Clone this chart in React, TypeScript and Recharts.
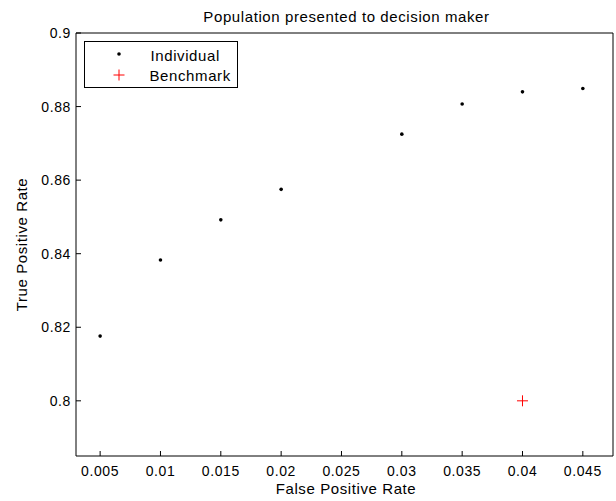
import React from 'react';
import { ScatterChart, Scatter, XAxis, YAxis, Legend } from 'recharts';

// ---- data ----
const fprValues = [0.005, 0.01, 0.015, 0.02, 0.03, 0.035, 0.04, 0.045];
const tprValues = [0.8176, 0.8383, 0.8492, 0.8575, 0.8725, 0.8807, 0.884, 0.8849];
const benchmarkFpr = [0.04];
const benchmarkTpr = [0.8];

const xTicks = [0.005, 0.01, 0.015, 0.02, 0.025, 0.03, 0.035, 0.04, 0.045];
const xTickLabels = ['0.005', '0.01', '0.015', '0.02', '0.025', '0.03', '0.035', '0.04', '0.045'];
const yTicks = [0.8, 0.82, 0.84, 0.86, 0.88, 0.9];
const yTickLabels = ['0.8', '0.82', '0.84', '0.86', '0.88', '0.9'];

const xDomain = [0.003, 0.0475];
const yDomain = [0.785, 0.9];

const titleText = 'Population presented to decision maker';
const xLabelText = 'False Positive Rate';
const yLabelText = 'True Positive Rate';
const seriesNames = ['Individual', 'Benchmark'];

const individualData = fprValues.map((x, i) => ({ x, y: tprValues[i] }));
const benchmarkData = benchmarkFpr.map((x, i) => ({ x, y: benchmarkTpr[i] }));

const fmt = (ticks: number[], labels: string[]) => (v: number) => {
  const i = ticks.findIndex((t) => Math.abs(t - v) < 1e-9);
  return i >= 0 ? labels[i] : String(v);
};

const DotShape = (props: any) => <circle cx={props.cx} cy={props.cy} r={1.8} fill="#000" />;
const PlusShape = (props: any) => (
  <g stroke="#ff0000" strokeWidth={1}>
    <line x1={props.cx - 5.5} y1={props.cy} x2={props.cx + 5.5} y2={props.cy} />
    <line x1={props.cx} y1={props.cy - 5.5} x2={props.cx} y2={props.cy + 5.5} />
  </g>
);
const NoShape = () => <g />;

const LegendBox = () => (
  <svg width={156} height={50} style={{ display: 'block', overflow: 'visible' }}>
    <rect x={0.5} y={0.5} width={153} height={46} fill="#fff" stroke="#000" strokeWidth={1} />
    <circle cx={35} cy={13} r={1.8} fill="#000" />
    <text x={66.5} y={19.5} fontSize={15} fill="#000">{seriesNames[0]}</text>
    <g stroke="#ff0000" strokeWidth={1}>
      <line x1={29.5} y1={34} x2={40.5} y2={34} />
      <line x1={35} y1={28.5} x2={35} y2={39.5} />
    </g>
    <text x={65.5} y={39.5} fontSize={15} fill="#000">{seriesNames[1]}</text>
  </svg>
);

const XTitle = (p: any) => {
  const vb = p.viewBox;
  return (
    <text x={vb.x + vb.width / 2 + 1.5} y={vb.y + 37.5} textAnchor="middle" fontSize={15} fill="#000">
      {xLabelText}
    </text>
  );
};
const YTitle = (p: any) => {
  const vb = p.viewBox;
  const cx = vb.x + 27;
  const cy = vb.y + vb.height / 2;
  return (
    <text x={cx} y={cy} textAnchor="middle" fontSize={15} fill="#000" transform={`rotate(-90, ${cx}, ${cy})`}>
      {yLabelText}
    </text>
  );
};
const TopTitle = (p: any) => {
  const vb = p.viewBox;
  return (
    <text x={vb.x + vb.width / 2 + 2} y={vb.y + vb.height - 11.5} textAnchor="middle" fontSize={15} fill="#000">
      {titleText}
    </text>
  );
};

export default function App() {
  const axisStroke = { stroke: '#000', strokeWidth: 1 };
  return (
    <div
      style={{
        position: 'absolute',
        left: 0,
        top: 0,
        width: 616,
        height: 501,
        background: '#fff',
        fontFamily: '"Liberation Sans", Arial, sans-serif',
        letterSpacing: '0.6px',
      }}
    >
      <ScatterChart width={616} height={501} margin={{ top: 32, right: 2, bottom: 0, left: 0 }}>
        <XAxis
          xAxisId="b"
          dataKey="x"
          type="number"
          domain={xDomain}
          allowDataOverflow
          ticks={xTicks}
          interval={0}
          tickFormatter={fmt(xTicks, xTickLabels)}
          tickSize={-5}
          tickMargin={15}
          height={45}
          axisLine={axisStroke}
          tickLine={axisStroke}
          tick={{ fill: '#000', fontSize: 14 }}
          label={{ content: XTitle }}
        />
        <XAxis
          xAxisId="t"
          dataKey="x"
          orientation="top"
          type="number"
          domain={xDomain}
          allowDataOverflow
          ticks={xTicks}
          interval={0}
          tickSize={-5}
          height={1}
          axisLine={axisStroke}
          tickLine={axisStroke}
          tick={false}
          label={{ content: TopTitle }}
        />
        <YAxis
          yAxisId="l"
          dataKey="y"
          type="number"
          domain={yDomain}
          allowDataOverflow
          ticks={yTicks}
          interval={0}
          tickFormatter={fmt(yTicks, yTickLabels)}
          tickSize={-5}
          tickMargin={10}
          width={76}
          axisLine={axisStroke}
          tickLine={axisStroke}
          tick={{ fill: '#000', fontSize: 14 }}
          label={{ content: YTitle }}
        />
        <YAxis
          yAxisId="r"
          dataKey="y"
          orientation="right"
          type="number"
          domain={yDomain}
          allowDataOverflow
          ticks={yTicks}
          interval={0}
          tickSize={-5}
          width={1}
          axisLine={axisStroke}
          tickLine={axisStroke}
          tick={false}
        />
        <Legend
          layout="horizontal"
          verticalAlign="middle"
          align="center"
          content={() => <LegendBox />}
          wrapperStyle={{ left: 84, top: 41, width: 156, height: 50 }}
        />
        <Scatter
          name="frame"
          data={individualData}
          xAxisId="t"
          yAxisId="r"
          shape={NoShape}
          legendType="none"
          isAnimationActive={false}
        />
        <Scatter
          name={seriesNames[0]}
          data={individualData}
          xAxisId="b"
          yAxisId="l"
          shape={DotShape}
          isAnimationActive={false}
        />
        <Scatter
          name={seriesNames[1]}
          data={benchmarkData}
          xAxisId="b"
          yAxisId="l"
          shape={PlusShape}
          isAnimationActive={false}
        />
      </ScatterChart>
    </div>
  );
}
